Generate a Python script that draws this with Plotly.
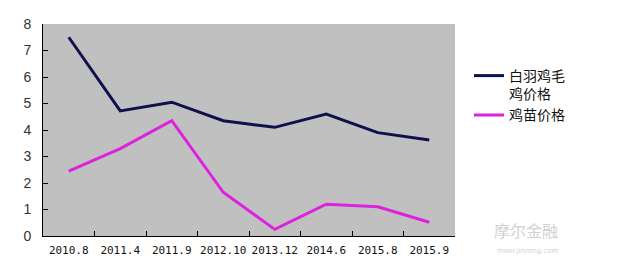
import plotly.graph_objects as go

categories = ["2010.8", "2011.4", "2011.9", "2012.10", "2013.12", "2014.6", "2015.8", "2015.9"]
broiler_price = [7.5, 4.72, 5.05, 4.35, 4.1, 4.6, 3.9, 3.62]
chick_price = [2.45, 3.3, 4.35, 1.65, 0.25, 1.2, 1.1, 0.52]
series_names = ["白羽鸡毛<br>鸡价格", "鸡苗价格"]
y_ticks = [0, 1, 2, 3, 4, 5, 6, 7, 8]

# page body has an 8px default margin; compensate
OFF = 8
W, H = 634 - OFF, 280 - OFF
PL, PR, PT, PB = 43, 455, 24, 236  # plot area in page pixels
L, T = PL - OFF, PT - OFF
R, B = W - (PR - OFF), H - (PB - OFF)
pw, ph = PR - PL, PB - PT


def px(x):
    return (x - PL) / pw


def py(y):
    return (PB - y) / ph


fig = go.Figure()
fig.add_trace(go.Scatter(x=categories, y=broiler_price, mode="lines", name=series_names[0],
                         line=dict(color="#10104f", width=3)))
fig.add_trace(go.Scatter(x=categories, y=chick_price, mode="lines", name=series_names[1],
                         line=dict(color="#dd22dd", width=3)))

fig.update_layout(
    width=W, height=H,
    margin=dict(l=L, r=R, t=T, b=B, autoexpand=False),
    paper_bgcolor="white",
    plot_bgcolor="#c0c0c0",
    font=dict(family="Noto Sans CJK SC", color="#111"),
    legend=dict(x=px(469), y=py(60), xanchor="left", yanchor="top",
                font=dict(size=14, family="Noto Sans CJK SC", color="#111"),
                valign="top", tracegroupgap=4, bgcolor="rgba(0,0,0,0)", itemwidth=30),
    xaxis=dict(type="category", tickson="boundaries", ticks="inside", ticklen=5,
               tickcolor="#000", showline=True, linecolor="#000", linewidth=1,
               showgrid=False, tickangle=0, automargin=False,
               tickfont=dict(family="DejaVu Sans Mono", size=11, color="#111"),
               range=[-0.5, 7.5], ticklabelstandoff=4),
    yaxis=dict(range=[0, 8], tickvals=y_ticks, ticks="inside", ticklen=5, tickcolor="#000",
               showline=True, linecolor="#000", linewidth=1, showgrid=False, zeroline=False,
               automargin=False,
               tickfont=dict(family="Liberation Sans", size=14, color="#333"),
               ticklabelstandoff=8),
)
fig.add_annotation(text="摩尔金融", x=px(560), y=py(244),
                   xref="paper", yref="paper", showarrow=False, yanchor="bottom",
                   font=dict(size=16, color="#d2d2d2", family="Noto Sans CJK SC"))
fig.add_annotation(text="moer.jinrong.com", x=px(560), y=py(245),
                   xref="paper", yref="paper", showarrow=False, yanchor="top",
                   font=dict(size=7, color="#d2d2d2", family="DejaVu Sans"))
fig.write_html("out.html")
